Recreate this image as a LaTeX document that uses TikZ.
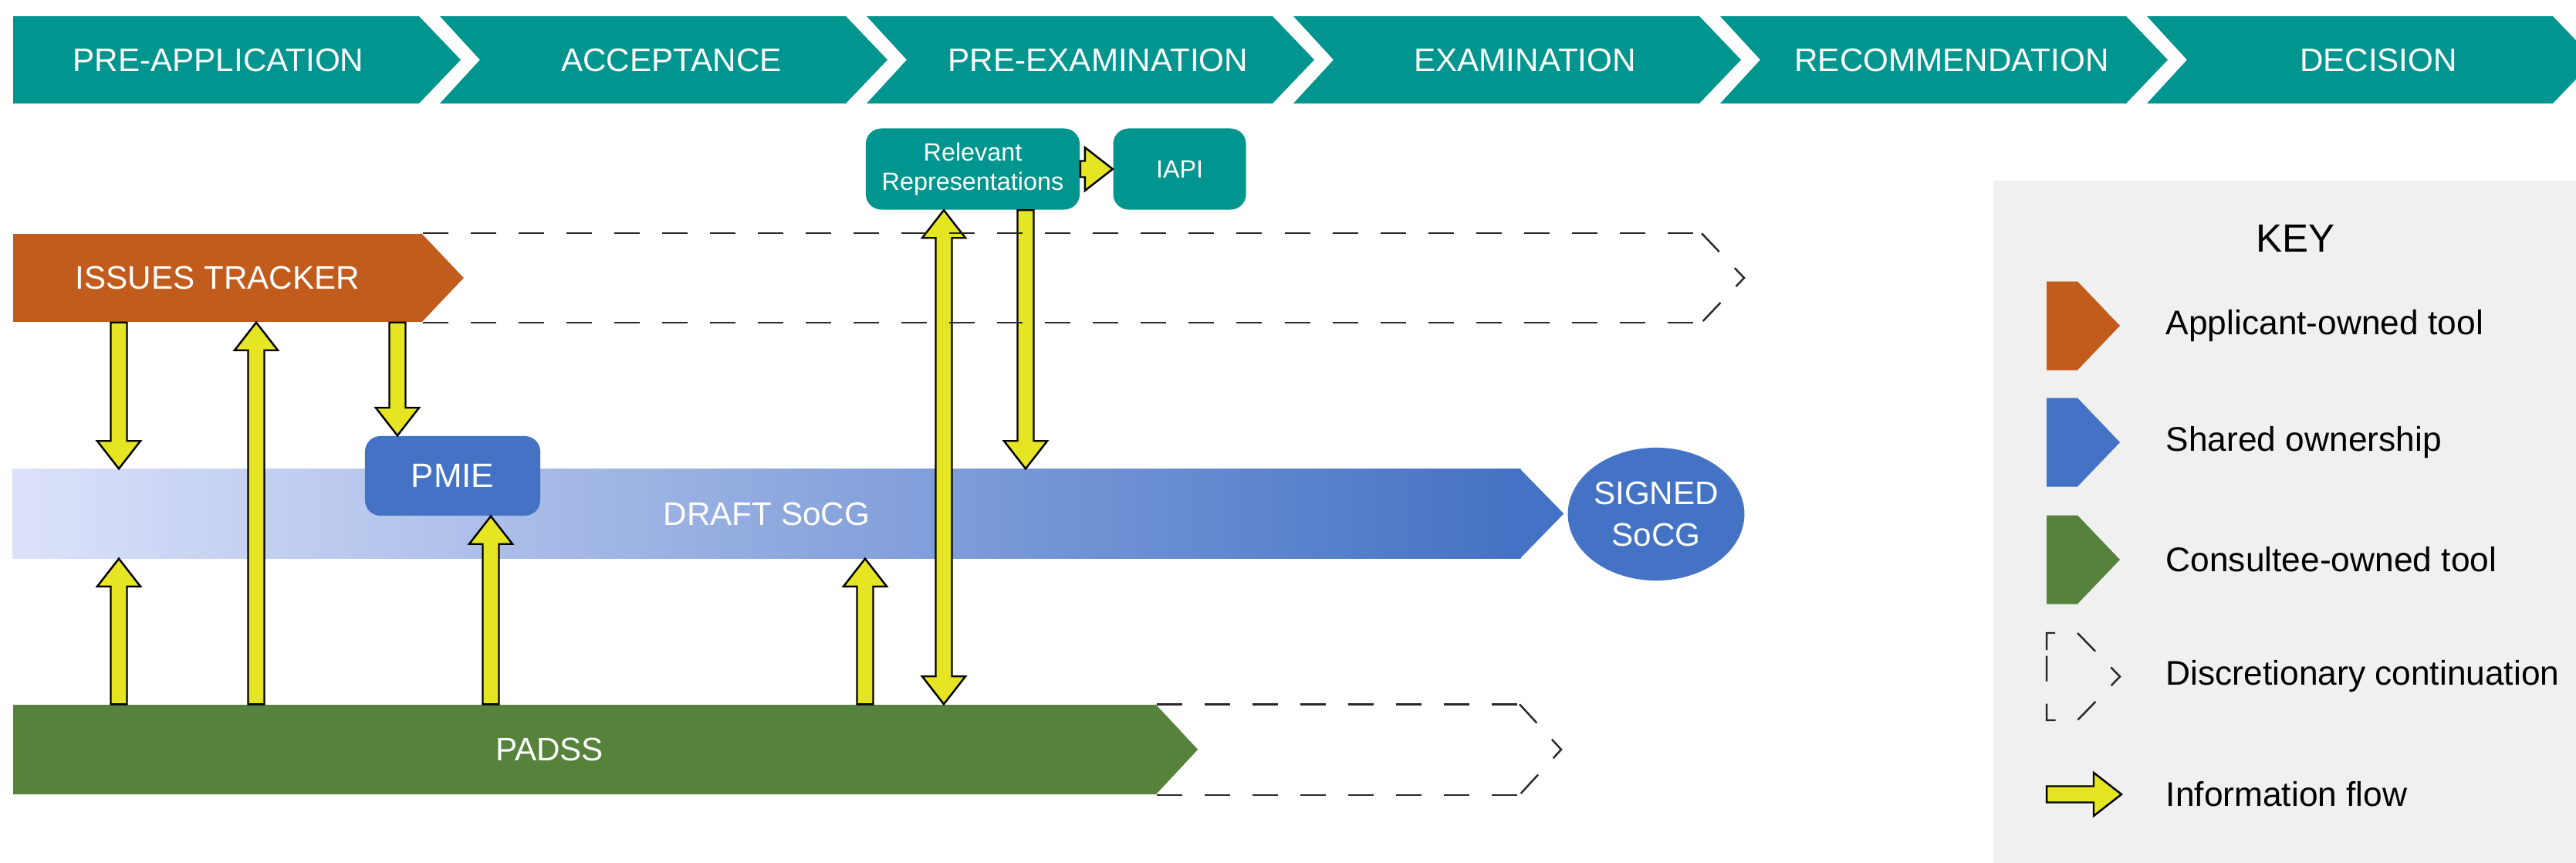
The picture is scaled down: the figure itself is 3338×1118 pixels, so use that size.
\documentclass[tikz,border=0pt]{standalone}
\usepackage{fontspec}
\setmainfont{Liberation Sans}
\usetikzlibrary{calc,positioning,shapes.geometric}

\definecolor{stageteal}{RGB}{0,149,142}
\definecolor{toolorange}{RGB}{193,92,29}
\definecolor{toolblue}{RGB}{68,114,196}
\definecolor{toolgreen}{RGB}{87,130,60}
\definecolor{drafttail}{RGB}{220,226,250}
\definecolor{flowyellow}{RGB}{229,229,36}
\definecolor{keygray}{RGB}{240,240,240}
\definecolor{dashgray}{RGB}{40,40,40}

\newcommand\flowpt[2]{([rotate around={\n1:(\p1)}]{\x1#1},{\y1#2})}

\tikzset{
  flow/.style={draw=black, fill=flowyellow, line width=0.7pt,
    to path={let \p1=(\tikztostart), \p2=(\tikztotarget),
      \n1={atan2(\y2-\y1,\x2-\x1)}, \n2={veclen(\x2-\x1,\y2-\y1)} in
      \flowpt{+0cm}{+0.105cm} -- \flowpt{+\n2-0.36cm}{+0.105cm} -- \flowpt{+\n2-0.36cm}{+0.28cm}
      -- \flowpt{+\n2}{+0cm} -- \flowpt{+\n2-0.36cm}{-0.28cm} -- \flowpt{+\n2-0.36cm}{-0.105cm}
      -- \flowpt{+0cm}{-0.105cm} -- cycle}},
  flowboth/.style={draw=black, fill=flowyellow, line width=0.7pt,
    to path={let \p1=(\tikztostart), \p2=(\tikztotarget),
      \n1={atan2(\y2-\y1,\x2-\x1)}, \n2={veclen(\x2-\x1,\y2-\y1)} in
      \flowpt{+0cm}{+0cm} -- \flowpt{+0.36cm}{+0.28cm} -- \flowpt{+0.36cm}{+0.105cm}
      -- \flowpt{+\n2-0.36cm}{+0.105cm} -- \flowpt{+\n2-0.36cm}{+0.28cm} -- \flowpt{+\n2}{+0cm}
      -- \flowpt{+\n2-0.36cm}{-0.28cm} -- \flowpt{+\n2-0.36cm}{-0.105cm} -- \flowpt{+0.36cm}{-0.105cm}
      -- \flowpt{+0.36cm}{-0.28cm} -- cycle}}
}

\begin{document}
\begin{tikzpicture}[x=0.01cm, y=-0.01cm,
  stage/.style={text=white, font=\fontsize{12}{14}\selectfont},
  band/.style={inner sep=0pt, minimum height=1.14cm, text=white, font=\fontsize{12}{14}\selectfont},
  tool/.style={rounded corners=0.2cm, fill=stageteal, text=white, inner sep=0pt, minimum height=1.05cm},
  cont/.style={draw=dashgray, line width=0.7pt, dash pattern=on 0.33cm off 0.29cm},
  keytext/.style={anchor=west, inner sep=0pt, font=\fontsize{12.6}{15}\selectfont}]

\useasboundingbox (0,0) rectangle (3338,1118);
\fill[white] (0,0) rectangle (3338,1118);

% stages
\foreach \stagename [count=\i from 0] in {PRE-APPLICATION,ACCEPTANCE,PRE-EXAMINATION,EXAMINATION,RECOMMENDATION,DECISION}{
  \pgfmathsetmacro\xo{17+553*\i}
  \pgfmathsetmacro\xn{\i==0 ? 0 : 52}
  \pgfmathsetmacro\xt{\xo+300-34*(\i==0)}
  \fill[stageteal] (\xo,21) -- (\xo+526,21) -- (\xo+580,77.5) -- (\xo+526,134) -- (\xo,134) -- (\xo+\xn,77.5) -- cycle;
  \node[stage] (stage\i) at (\xt,77.5) {\stagename};
}

% tools
\node[band, fill=toolorange, minimum width=5.30cm] (issues) at (282,360) {ISSUES TRACKER};
\fill[toolorange] ([xshift=-0.5pt]issues.north east) -- ([xshift=0.53cm]issues.east) -- ([xshift=-0.5pt]issues.south east) -- cycle;

\node[band, left color=drafttail, right color=toolblue, minimum width=19.53cm, minimum height=1.15cm] (draft) at (993.5,665.5) {DRAFT SoCG};
\fill[toolblue] ([xshift=-0.5pt]draft.north east) -- ([xshift=0.55cm]draft.east) -- ([xshift=-0.5pt]draft.south east) -- cycle;
\node[ellipse, fill=toolblue, text=white, inner sep=0pt, minimum width=2.28cm, minimum height=1.72cm,
  align=center, font=\fontsize{12}{15.6}\selectfont] (signed) at (2146,666) {SIGNED\\SoCG};

\node[band, fill=toolgreen, minimum width=14.81cm, minimum height=1.16cm] (padss) at (757.5,971) {};
\fill[toolgreen] ([xshift=-0.5pt]padss.north east) -- ([xshift=0.53cm]padss.east) -- ([xshift=-0.5pt]padss.south east) -- cycle;
\node[band, minimum height=0pt] (padsslabel) at (712,971) {PADSS};

\node[tool, fill=toolblue, minimum width=2.27cm, minimum height=1.03cm, font=\fontsize{12.5}{14}\selectfont] (pmie) at (586.5,616.5) {PMIE};
\node[tool, minimum width=2.77cm, align=center, font=\fontsize{9.2}{10.8}\selectfont] (relrep) at (1260.5,219) {Relevant\\Representations};
\node[tool, minimum width=1.72cm, right=0.42cm of relrep, font=\fontsize{9.2}{10.8}\selectfont] (iapi) {IAPI};

% information flow
\coordinate (f1) at (154,0);
\coordinate (f2) at (332,0);
\coordinate (f3) at (515,0);
\coordinate (f4) at (636,0);
\coordinate (f5) at (1121,0);
\coordinate (f6) at (1223,0);
\coordinate (f7) at (1329,0);
\draw[flow] (issues.south -| f1) to (draft.north -| f1);
\draw[flow] (padss.north -| f1) to (draft.south -| f1);
\draw[flow] (padss.north -| f2) to (issues.south -| f2);
\draw[flow] (issues.south -| f3) to (pmie.north -| f3);
\draw[flow] (padss.north -| f4) to (pmie.south -| f4);
\draw[flow] (padss.north -| f5) to (draft.south -| f5);
\draw[flowboth] (padss.north -| f6) to (relrep.south -| f6);
\draw[flow] (relrep.south -| f7) to (draft.north -| f7);
\draw[flow] (relrep.east) to (iapi.west);

% discretionary continuation
\coordinate (itend) at (2205,360);
\coordinate (pdend) at (1969,971);
\draw[cont] (issues.north east) -- (issues.north east -| itend);
\draw[cont] (issues.south east) -- (issues.south east -| itend);
\draw[cont] (issues.north east -| itend) -- ([xshift=0.55cm]itend) -- (issues.south east -| itend);
\draw[cont] (padss.north east) -- (padss.north east -| pdend);
\draw[cont] (padss.south east) -- (padss.south east -| pdend);
\draw[cont] (padss.north east -| pdend) -- ([xshift=0.54cm]pdend) -- (padss.south east -| pdend);

% key
\fill[keygray] (2583,234) rectangle (3338,1118);
\node[font=\fontsize{14.5}{17}\selectfont] (keytitle) at (2974,309) {KEY};
\foreach \y/\col/\txt [count=\k] in {422/toolorange/Applicant-owned tool,573/toolblue/Shared ownership,725/toolgreen/Consultee-owned tool}{
  \fill[\col] (2652,\y-57.5) -- (2692,\y-57.5) -- (2747,\y) -- (2692,\y+57.5) -- (2652,\y+57.5) -- cycle;
  \node[keytext] (keytext\k) at (2806,\y) {\txt};
}
\draw[cont] (2652,842) -- (2652,820) -- (2692,820) -- (2747,876.5) -- (2692,933) -- (2652,933) -- cycle;
\node[keytext] (keytext4) at (2806,876.5) {Discretionary continuation};
\coordinate (keyflowa) at (2652,1029);
\coordinate (keyflowb) at (2749,1029);
\draw[flow] (keyflowa) to (keyflowb);
\node[keytext] (keytext5) at (2806,1029) {Information flow};
\end{tikzpicture}
\end{document}
